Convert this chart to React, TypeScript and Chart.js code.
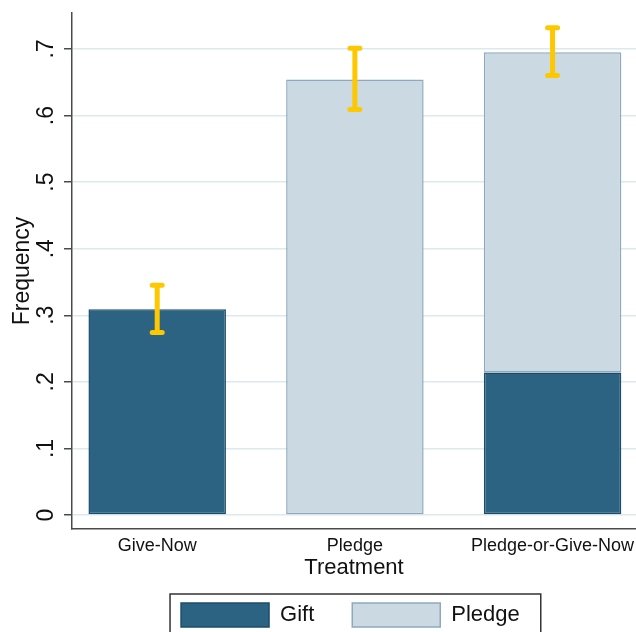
import React, { useEffect, useRef } from "react";
import { Chart, registerables } from "chart.js";

Chart.register(...registerables);

const categories = ["Give-Now", "Pledge", "Pledge-or-Give-Now"];
const categoryPositions = [0, 1, 2];
const giftValues: (number | null)[] = [0.309, null, 0.214];
const pledgeValues: (number | null)[] = [null, 0.654, 0.481];
const ciLow = [0.274, 0.609, 0.660];
const ciHigh = [0.345, 0.701, 0.732];
const yTicks = [0, 0.1, 0.2, 0.3, 0.4, 0.5, 0.6, 0.7];
const yTickLabels = ["0", ".1", ".2", ".3", ".4", ".5", ".6", ".7"];

const FONT = "'Liberation Sans', Arial, Helvetica, sans-serif";

const errorBarPlugin = {
  id: "errorBars",
  afterDatasetsDraw(chart: any) {
    const { ctx, scales } = chart;
    const xs = scales.x;
    const ys = scales.y;
    ctx.save();
    ctx.strokeStyle = "#fdc800";
    ctx.lineWidth = 5;
    ctx.lineCap = "round";
    categoryPositions.forEach((p, i) => {
      const x = xs.getPixelForValue(p);
      const y1 = ys.getPixelForValue(ciLow[i]);
      const y2 = ys.getPixelForValue(ciHigh[i]);
      ctx.beginPath();
      ctx.moveTo(x, y1);
      ctx.lineTo(x, y2);
      ctx.moveTo(x - 5, y1);
      ctx.lineTo(x + 5, y1);
      ctx.moveTo(x - 5, y2);
      ctx.lineTo(x + 5, y2);
      ctx.stroke();
    });
    ctx.restore();
  },
};

const legendShiftPlugin = {
  id: "legendShift",
  afterLayout(chart: any) {
    const lg = chart.legend;
    if (!lg) return;
    lg.left -= 3.6;
    lg.right -= 3.6;
  },
};

const legendBoxPlugin = {
  id: "legendBox",
  afterDraw(chart: any) {
    const lg = chart.legend;
    if (!lg || !lg.legendHitBoxes || !lg.legendHitBoxes.length) return;
    const hb = lg.legendHitBoxes;
    const last = hb[hb.length - 1];
    const left = hb[0].left - 11;
    const right = last.left + last.width + 21;
    const top = hb[0].top - 9;
    const { ctx } = chart;
    ctx.save();
    ctx.strokeStyle = "#333";
    ctx.lineWidth = 1.5;
    ctx.strokeRect(left, top, right - left, 80);
    ctx.restore();
  },
};

export default function App() {
  const ref = useRef<HTMLCanvasElement | null>(null);

  useEffect(() => {
    document.body.style.margin = "0";
    const canvas = ref.current;
    if (!canvas) return;
    const chart = new Chart(canvas, {
      type: "bar",
      data: {
        datasets: [
          {
            label: "Gift",
            data: categoryPositions.map((p, i) => ({ x: p, y: giftValues[i] })) as any,
            backgroundColor: "#2c6383",
            borderColor: "#1b4d6b",
            borderWidth: 1.5,
            borderSkipped: false,
          },
          {
            label: "Pledge",
            data: categoryPositions.map((p, i) => ({ x: p, y: pledgeValues[i] })) as any,
            backgroundColor: "#cbd9e2",
            borderColor: "#8ea9bd",
            borderWidth: 1.5,
            borderSkipped: false,
          },
        ],
      },
      options: {
        animation: false,
        responsive: false,
        maintainAspectRatio: false,
        devicePixelRatio: 1,
        layout: { padding: { left: 0, right: 0, top: 13, bottom: -5 } },
        datasets: {
          bar: { barPercentage: 0.6955, categoryPercentage: 1 },
        },
        plugins: {
          legend: {
            position: "bottom",
            fullSize: false,
            labels: {
              boxWidth: 88,
              boxHeight: 24,
              padding: 38,
              color: "#111",
              font: { family: FONT, size: 22 },
            },
          },
          tooltip: { enabled: false },
        },
        scales: {
          x: {
            type: "linear",
            stacked: true,
            offset: false,
            min: -0.431,
            max: 2.422,
            afterBuildTicks: (scale: any) => {
              scale.ticks = categoryPositions.map((v) => ({ value: v }));
            },
            afterFit: (scale: any) => {
              scale.height = 36;
              scale.paddingLeft = 0;
              scale.paddingRight = 0;
            },
            grid: { display: false, drawTicks: false, offset: false },
            border: { display: true, color: "#4a4a4a", width: 1.5 },
            ticks: {
              padding: 6,
              color: "#111",
              font: { family: FONT, size: 18 },
              autoSkip: false,
              maxRotation: 0,
              callback: (v: any) => {
                const i = categoryPositions.indexOf(Number(v));
                return i >= 0 ? categories[i] : "";
              },
            },
            title: {
              display: true,
              text: "Treatment",
              color: "#111",
              font: { family: FONT, size: 22 },
              padding: { top: 0, bottom: -16.2 },
            },
          },
          y: {
            stacked: true,
            min: -0.021,
            max: 0.754,
            afterBuildTicks: (scale: any) => {
              scale.ticks = yTicks.map((v) => ({ value: v }));
            },
            afterFit: (scale: any) => {
              scale.width = 72;
              scale.paddingTop = 0;
              scale.paddingBottom = 0;
            },
            grid: {
              color: "#dce9ed",
              lineWidth: 1.5,
              tickLength: 8,
              tickColor: "#4a4a4a",
              tickWidth: 1.5,
            },
            border: { display: true, color: "#4a4a4a", width: 1.5 },
            ticks: {
              padding: 8,
              minRotation: 90,
              maxRotation: 90,
              crossAlign: "center",
              color: "#111",
              font: { family: FONT, size: 23 },
              callback: (v: any) => {
                const i = yTicks.findIndex((t) => Math.abs(t - Number(v)) < 1e-9);
                return i >= 0 ? yTickLabels[i] : "";
              },
            },
            title: {
              display: true,
              text: "Frequency",
              color: "#111",
              font: { family: FONT, size: 23 },
              padding: { top: 9, bottom: 0 },
            },
          },
        },
      } as any,
      plugins: [errorBarPlugin, legendShiftPlugin, legendBoxPlugin],
    });
    return () => chart.destroy();
  }, []);

  return <canvas ref={ref} width={636} height={632} style={{ display: "block" }} />;
}
